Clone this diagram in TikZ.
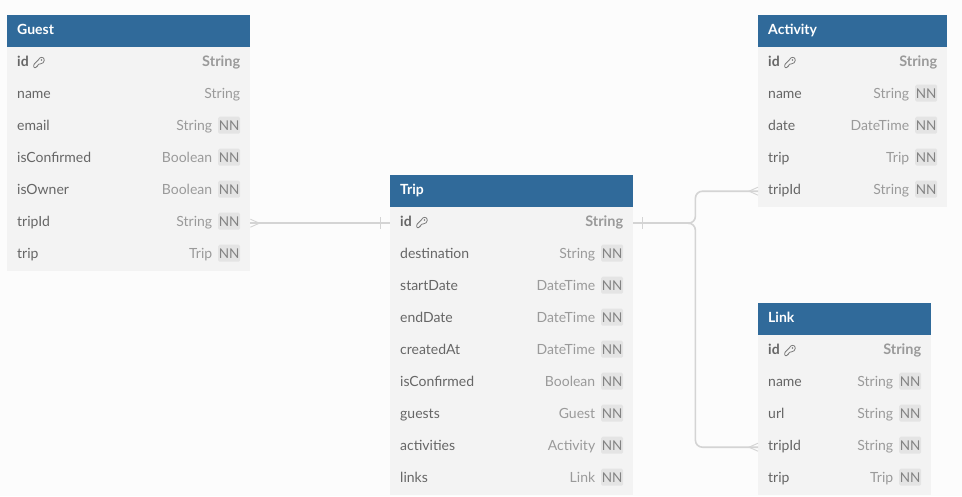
\documentclass[tikz,border=0pt]{standalone}
\usepackage{fontspec}
\setmainfont{Lato}
\definecolor{headblue}{HTML}{306A9A}
\definecolor{rowgray}{HTML}{F3F3F3}
\definecolor{pagegray}{HTML}{FCFCFC}
\definecolor{namegray}{HTML}{666666}
\definecolor{kindgray}{HTML}{9A9A9A}
\definecolor{badgegray}{HTML}{E4E4E4}
\definecolor{linegray}{HTML}{D4D4D4}
\tikzset{
  headbox/.style={fill=headblue,text=white,font=\fontsize{14}{16}\selectfont\bfseries,
    anchor=north west,inner sep=0pt,inner xsep=10pt,minimum height=32pt,align=left,text height=10pt,text depth=3pt},
  rowbox/.style={fill=rowgray,anchor=north west,inner sep=0pt,minimum height=32pt,minimum width=\boxw},
  fieldname/.style={text=namegray,font=\fontsize{14}{16}\selectfont,anchor=west,inner sep=0pt,text height=10pt,text depth=3pt},
  fieldkind/.style={text=kindgray,font=\fontsize{14}{16}\selectfont,anchor=east,inner sep=0pt,text height=10pt,text depth=3pt},
  nnbadge/.style={fill=badgegray,text=kindgray!85!black,font=\fontsize{13.5}{16}\selectfont,anchor=east,
    inner sep=0pt,minimum width=22pt,minimum height=17pt,rounded corners=1.5pt},
  relation/.style={draw=linegray,line width=1.6pt},
  crowfoot/.style={draw=linegray,line width=.9pt},
  keyicon/.pic={
    \draw[kindgray!80!black,line width=.8pt,rounded corners=.8pt] (4.5,-3.4) -- (-.2,1.4) -- (-.2,4.4) -- (2.4,4.4)
      -- (2.4,3) -- (3.8,3) -- (3.8,1.6) -- (5.6,.6)
      .. controls (8.5,1) and (10.4,-1.4) .. (10.2,-3.4)
      .. controls (10,-6) and (6,-7) .. (4.5,-3.4);
    \fill[kindgray!80!black] (7.6,-3.2) circle[radius=.8];
  }
}
\newlength{\boxw}
% one table: key, left, top, width, title, rows
\newcommand{\erdtable}[6]{
  \setlength{\boxw}{#4pt}
  \node[headbox,text width={#4pt-20pt}] (#1) at (#2,#3) {#5};
  \foreach \field/\kind/\flag [count=\i] in {#6} {
    \node[rowbox] (#1-\i) at ({#2},{#3+\i*32}) {};
    \ifnum\flag=2
      \node[fieldname,font=\fontsize{14}{16}\selectfont\bfseries] (#1-\i-name) at ([xshift=10pt]#1-\i.west) {\field};
      \pic at ([xshift=5pt]#1-\i-name.east) {keyicon};
      \node[fieldkind,font=\fontsize{14.5}{16}\selectfont\bfseries] (#1-\i-kind) at ([xshift=-10pt]#1-\i.east) {\kind};
    \else
      \node[fieldname] (#1-\i-name) at ([xshift=10pt]#1-\i.west) {\field};
      \ifnum\flag=1
        \node[nnbadge,yshift=2pt] (#1-\i-nn) at ([xshift=-10pt]#1-\i.east) {NN};
        \node[fieldkind] (#1-\i-kind) at ([xshift=-38pt]#1-\i.east) {\kind};
      \else
        \node[fieldkind] (#1-\i-kind) at ([xshift=-10pt]#1-\i.east) {\kind};
      \fi
    \fi
  }
}
\begin{document}
\begin{tikzpicture}[x=1pt,y=-1pt]
  \fill[pagegray] (0,0) rectangle (962,496);
  \useasboundingbox (0,0) rectangle (962,496);

  \erdtable{guest}{7}{15}{243}{Guest}{id/String/2,name/String/0,email/String/1,
    isConfirmed/Boolean/1,isOwner/Boolean/1,tripId/String/1,trip/Trip/1}
  \erdtable{trip}{390}{175}{243}{Trip}{id/String/2,destination/String/1,startDate/DateTime/1,
    endDate/DateTime/1,createdAt/DateTime/1,isConfirmed/Boolean/1,guests/Guest/1,
    activities/Activity/1,links/Link/1}
  \erdtable{activity}{758}{15}{189}{Activity}{id/String/2,name/String/1,date/DateTime/1,
    trip/Trip/1,tripId/String/1}
  \erdtable{link}{758}{303}{173}{Link}{id/String/2,name/String/1,url/String/1,
    tripId/String/1,trip/Trip/1}

  % guest to trip
  \draw[relation] (guest-6.east) -- (trip-1.west);
  \draw[crowfoot] ([yshift=4pt]guest-6.east) -- ([xshift=9pt]guest-6.east) -- ([yshift=-4pt]guest-6.east);
  \draw[crowfoot] ([xshift=-10pt,yshift=6pt]trip-1.west) -- ([xshift=-10pt,yshift=-6pt]trip-1.west);

  % trip to activity and link
  \coordinate (tripbus) at ([xshift=56pt]trip-1.east);
  \draw[relation] (trip-1.east) -- (tripbus);
  \draw[relation,rounded corners=7pt] (tripbus) -- ++(6,0) |- (activity-5.west);
  \draw[relation,rounded corners=7pt] (tripbus) -- ++(6,0) |- (link-4.west);
  \draw[crowfoot] ([xshift=9pt,yshift=6pt]trip-1.east) -- ([xshift=9pt,yshift=-6pt]trip-1.east);
  \draw[crowfoot] ([yshift=4pt]activity-5.west) -- ([xshift=-9pt]activity-5.west) -- ([yshift=-4pt]activity-5.west);
  \draw[crowfoot] ([yshift=4pt]link-4.west) -- ([xshift=-9pt]link-4.west) -- ([yshift=-4pt]link-4.west);
\end{tikzpicture}
\end{document}
